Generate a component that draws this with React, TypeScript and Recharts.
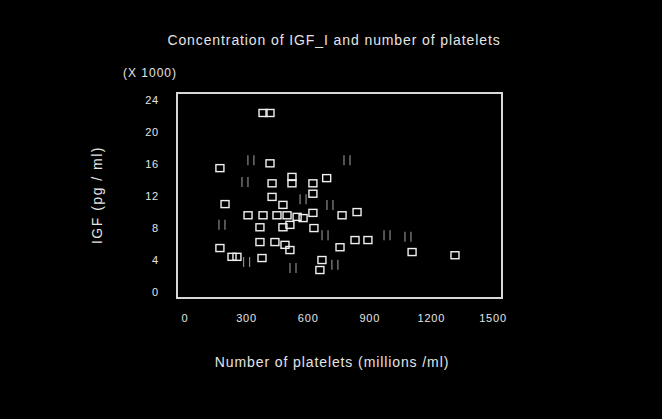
import { ScatterChart, Scatter, XAxis, YAxis, ReferenceArea } from "recharts"

// platelets (millions/ml) and IGF_I (x1000 pg/ml)
const plateletsMain = [380, 414, 170, 414, 424, 521, 521, 623, 623, 690, 195, 424, 477, 307, 380, 448, 497, 546, 575, 623, 765, 838, 365, 477, 511, 628, 365, 438, 487, 511, 755, 828, 891, 170, 229, 253, 375, 667, 657, 1106, 1315]
const igfMain = [22.4, 22.4, 15.5, 16.1, 13.6, 14.4, 13.6, 13.6, 12.3, 14.25, 11.0, 11.9, 10.9, 9.6, 9.6, 9.6, 9.6, 9.4, 9.25, 9.9, 9.6, 10.0, 8.1, 8.1, 8.4, 8.0, 6.25, 6.25, 5.9, 5.25, 5.6, 6.5, 6.5, 5.5, 4.4, 4.4, 4.25, 4.0, 2.75, 5.0, 4.6]

// faint "II" marks
const plateletsFaint = [321, 292, 180, 789, 984, 1086, 730, 706, 300, 526, 575, 682]
const igfFaint = [16.5, 13.75, 8.4, 16.5, 7.1, 6.9, 3.4, 10.9, 3.75, 3.0, 11.6, 7.1]

const xTicks = [0, 300, 600, 900, 1200, 1500]
const yTicks = [0, 4, 8, 12, 16, 20, 24]

const mainData = plateletsMain.map((x, i) => ({ x, y: igfMain[i] }))
const faintData = plateletsFaint.map((x, i) => ({ x, y: igfFaint[i] }))

const font = "'Liberation Sans', Arial, sans-serif"
const fg = "#e4e4e4"

const SquareMark = (props: any) => {
  const { cx, cy } = props
  return <rect x={cx - 4} y={cy - 3.5} width={8} height={7} fill="none" stroke="#f0f0f0" strokeWidth={1.4} />
}

const FaintMark = (props: any) => {
  const { cx, cy } = props
  return (
    <g stroke="#8a8a8a" strokeWidth={1.2}>
      <line x1={cx - 3} y1={cy - 5} x2={cx - 3} y2={cy + 5} />
      <line x1={cx + 3} y1={cy - 5} x2={cx + 3} y2={cy + 5} />
    </g>
  )
}

const tickStyle = { fill: fg, fontSize: 11, fontFamily: font, letterSpacing: 0.8 }

export default function App() {
  return (
    <div style={{ position: "absolute", left: 0, top: 0, width: 662, height: 419, background: "#000", fontFamily: font }}>
      <ScatterChart width={662} height={419} margin={{ top: 93, right: 160, bottom: 91, left: 147 }}>
        <XAxis
          type="number"
          dataKey="x"
          domain={[-39, 1544]}
          ticks={xTicks}
          height={30}
          axisLine={false}
          tickLine={false}
          tickMargin={10}
          tick={tickStyle}
          allowDataOverflow
        />
        <YAxis
          type="number"
          dataKey="y"
          domain={[-0.75, 24.9]}
          ticks={yTicks}
          width={30}
          axisLine={false}
          tickLine={false}
          tickMargin={12}
          tick={tickStyle}
          allowDataOverflow
        />
        <ReferenceArea x1={-39} x2={1544} y1={-0.75} y2={24.9} fill="none" fillOpacity={0} stroke="#d8d8d8" strokeWidth={2} ifOverflow="visible" />
        <Scatter data={faintData} shape={<FaintMark />} isAnimationActive={false} />
        <Scatter data={mainData} shape={<SquareMark />} isAnimationActive={false} />
        <text x={334} y={45} textAnchor="middle" fill={fg} fontSize={14} letterSpacing={0.9} fontFamily={font}>
          Concentration of IGF_I and number of platelets
        </text>
        <text x={150} y={77} textAnchor="middle" fill={fg} fontSize={12} letterSpacing={1} fontFamily={font}>
          (X 1000)
        </text>
        <text x={102} y={195} textAnchor="middle" fill={fg} fontSize={14} letterSpacing={1.5} fontFamily={font} transform="rotate(-90 102 195)">
          IGF (pg / ml)
        </text>
        <text x={332} y={367} textAnchor="middle" fill={fg} fontSize={14} letterSpacing={0.9} fontFamily={font}>
          Number of platelets (millions /ml)
        </text>
      </ScatterChart>
    </div>
  )
}
